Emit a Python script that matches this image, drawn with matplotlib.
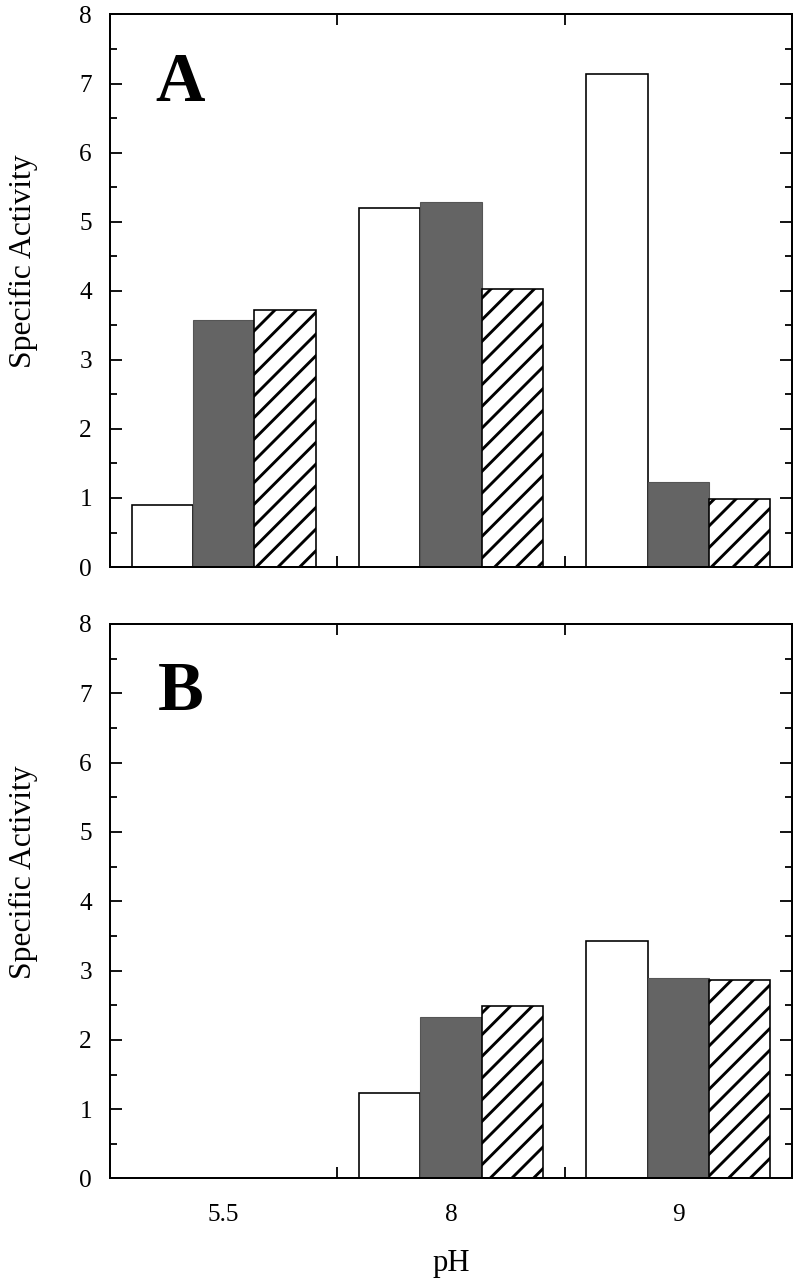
import numpy as np
import matplotlib
matplotlib.use('Agg')
import matplotlib.pyplot as plt
from matplotlib.ticker import MultipleLocator, FixedLocator

plt.rcParams['font.family'] = ['Liberation Serif', 'DejaVu Serif']
plt.rcParams['hatch.linewidth'] = 1.6
plt.rcParams['hatch.color'] = 'black'

# data
ph_labels = ['5.5', '8', '9']
panel_a_open = [0.90, 5.20, 7.14]
panel_a_dark = [3.57, 5.28, 1.23]
panel_a_hatch = [3.72, 4.03, 0.99]
panel_b_open = [0.0, 1.24, 3.43]
panel_b_dark = [0.0, 2.33, 2.89]
panel_b_hatch = [0.0, 2.49, 2.87]

DPI = 130
fig = plt.figure(figsize=(795 / DPI, 1280 / DPI), dpi=DPI)
ax_a = fig.add_axes([0.1384, 0.557, 0.8578, 0.4317])
ax_b = fig.add_axes([0.1384, 0.0793, 0.8578, 0.4332])

width = 0.27
x = np.arange(len(ph_labels))


def draw_panel(ax, open_vals, dark_vals, hatch_vals, letter, show_xlabels):
    for xi, v in zip(x, open_vals):
        if v > 0:
            ax.bar(xi - width, v, width, color='white', edgecolor='black', linewidth=0.9)
    for xi, v in zip(x, dark_vals):
        if v > 0:
            ax.bar(xi, v, width, color='#646464', edgecolor='#555555', linewidth=0.6)
    for xi, v in zip(x, hatch_vals):
        if v > 0:
            ax.bar(xi + width, v, width, color='white', edgecolor='black',
                   hatch='//', linewidth=0.9)

    ax.set_xlim(-0.5, 2.5)
    ax.set_ylim(0, 8)
    ax.yaxis.set_major_locator(MultipleLocator(1))
    ax.yaxis.set_minor_locator(MultipleLocator(0.5))
    ax.xaxis.set_major_locator(FixedLocator(x))
    ax.xaxis.set_minor_locator(FixedLocator([0.5, 1.5]))

    ax.tick_params(axis='y', which='both', direction='in', left=True, right=True,
                   width=1.0, labelsize=14, pad=10)
    ax.tick_params(axis='y', which='major', length=6.6)
    ax.tick_params(axis='y', which='minor', length=3.8)
    ax.tick_params(axis='x', which='major', length=0, labelsize=14, pad=14)
    ax.tick_params(axis='x', which='minor', direction='in', top=True, bottom=True,
                   length=6.0, width=1.0)

    if show_xlabels:
        ax.set_xticklabels(ph_labels)
    else:
        ax.set_xticklabels([])

    for s in ax.spines.values():
        s.set_linewidth(1.1)

    ax.set_ylabel('Specific Activity', fontsize=17.5)
    ax.yaxis.set_label_coords(-0.106, 0.553)
    ax.text(-0.19, 7.0, letter, fontsize=38, fontweight='bold',
            ha='center', va='center')


draw_panel(ax_a, panel_a_open, panel_a_dark, panel_a_hatch, 'A', False)
draw_panel(ax_b, panel_b_open, panel_b_dark, panel_b_hatch, 'B', True)

ax_b.set_xlabel('pH', fontsize=17)
ax_b.xaxis.set_label_coords(0.5, -0.128)

plt.savefig('out.png', dpi=DPI)
